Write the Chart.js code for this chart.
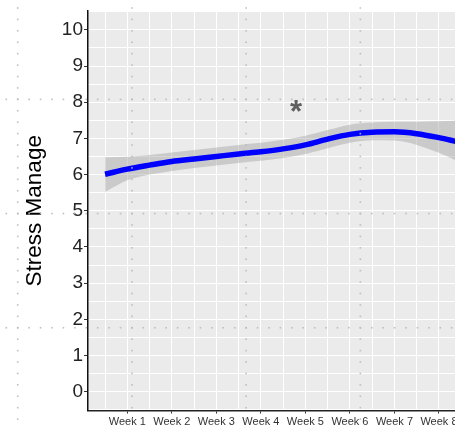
<!DOCTYPE html>
<html>
<head>
<meta charset="utf-8">
<script src="https://cdn.jsdelivr.net/npm/chart.js@4.4.1/dist/chart.umd.min.js"></script>
<style>
  html, body { margin: 0; padding: 0; background: #fff; }
  #wrap { width: 455px; height: 425px; position: relative; }
</style>
</head>
<body>
<div id="wrap"><canvas id="grafico"></canvas></div>
<script>
// Dados (x em semanas)
const semanas = [0.5, 1, 1.5, 2, 2.5, 3, 3.5, 4, 4.5, 5, 5.5, 6, 6.5, 7, 7.5, 8, 8.4];
const ajuste   = [6.01, 6.15, 6.26, 6.36, 6.43, 6.50, 6.57, 6.63, 6.71, 6.82, 6.98, 7.11, 7.17, 7.18, 7.13, 7.02, 6.91];
const inferior = [5.52, 5.84, 6.00, 6.10, 6.18, 6.25, 6.32, 6.38, 6.46, 6.57, 6.73, 6.88, 6.95, 6.94, 6.82, 6.60, 6.38];
const superior = [6.48, 6.49, 6.54, 6.61, 6.68, 6.75, 6.82, 6.88, 6.96, 7.07, 7.23, 7.38, 7.44, 7.46, 7.46, 7.47, 7.49];

const rotulosX = ['Week 1', 'Week 2', 'Week 3', 'Week 4', 'Week 5', 'Week 6', 'Week 7', 'Week 8'];
const valoresTicksY = [0, 1, 2, 3, 4, 5, 6, 7, 8, 9, 10];

// anotacao "*"
const asteriscoX = [4.79];
const asteriscoY = [7.9];

const pontos = arr => semanas.map((s, i) => ({ x: s, y: arr[i] }));

// linhas de grade: maiores + menores (metade)
const gradeX = [];
rotulosX.forEach((r, i) => { gradeX.push(i + 0.5, i + 1); });
const gradeY = [];
valoresTicksY.forEach(v => { gradeY.push(v - 0.5, v); });
gradeY.push(10.5);

const fundoPainel = {
    id: 'fundoPainel',
    beforeDraw(chart) {
        const { ctx, chartArea: a } = chart;
        ctx.save();
        ctx.fillStyle = '#EBEBEB';
        ctx.fillRect(a.left, a.top, a.right - a.left, a.bottom - a.top);
        ctx.restore();
    }
};

const anotacao = {
    id: 'anotacao',
    afterDatasetsDraw(chart) {
        const { ctx, scales } = chart;
        ctx.save();
        ctx.font = 'bold 31px "Liberation Sans", Arial, sans-serif';
        ctx.fillStyle = '#5f5f5f';
        ctx.textAlign = 'center';
        ctx.textBaseline = 'alphabetic';
        asteriscoX.forEach((x, i) => {
            const m = ctx.measureText('*');
            const px = scales.x.getPixelForValue(x);
            const py = scales.y.getPixelForValue(asteriscoY[i]);
            ctx.fillText('*', px, py + (m.actualBoundingBoxAscent - m.actualBoundingBoxDescent) / 2);
        });
        ctx.restore();
    }
};

// linhas pontilhadas sobrepostas
const pontilhado = {
    id: 'pontilhado',
    afterDraw(chart) {
        const ctx = chart.ctx;
        const passo = 11.42, x0 = 6.3, y0 = 8;
        ctx.save();
        ctx.fillStyle = 'rgba(185,185,185,0.9)';
        for (let c = 1; c < 40; c += 10) {
            const x = x0 + c * passo;
            for (let y = y0; y < chart.height; y += passo) ctx.fillRect(x - 0.8, y - 0.8, 1.6, 1.6);
        }
        for (let r = 8; r < 40; r += 10) {
            const y = y0 + r * passo;
            for (let x = x0; x < chart.width; x += passo) ctx.fillRect(x - 0.8, y - 0.8, 1.6, 1.6);
        }
        ctx.restore();
    }
};

new Chart(document.getElementById('grafico'), {
    type: 'line',
    data: {
        datasets: [
            {
                label: 'ajuste',
                data: pontos(ajuste),
                borderColor: '#0000FF',
                borderWidth: 5.5,
                pointRadius: 0,
                fill: false,
                cubicInterpolationMode: 'monotone',
                order: 0
            },
            {
                label: 'inferior',
                data: pontos(inferior),
                borderColor: 'rgba(0,0,0,0)',
                borderWidth: 0,
                pointRadius: 0,
                fill: false,
                cubicInterpolationMode: 'monotone',
                order: 2
            },
            {
                label: 'superior',
                data: pontos(superior),
                borderColor: 'rgba(0,0,0,0)',
                backgroundColor: 'rgba(153,153,153,0.4)',
                borderWidth: 0,
                pointRadius: 0,
                fill: '-1',
                cubicInterpolationMode: 'monotone',
                order: 1
            }
        ]
    },
    options: {
        responsive: true,
        maintainAspectRatio: false,
        animation: false,
        layout: { padding: { top: 11, left: 0, right: 0, bottom: 0 } },
        plugins: { legend: { display: false }, tooltip: { enabled: false } },
        scales: {
            x: {
                type: 'linear',
                min: 0.117,
                max: 8.36,
                afterBuildTicks: s => { s.ticks = gradeX.map(v => ({ value: v })); },
                afterFit: s => { s.height = 14.5; s.paddingLeft = 0; s.paddingRight = 0; },
                ticks: {
                    autoSkip: false,
                    maxRotation: 0,
                    padding: 2,
                    color: '#333',
                    font: { family: '"Liberation Sans", Arial, sans-serif', size: 11 },
                    callback: v => Number.isInteger(v) ? rotulosX[v - 1] : ''
                },
                grid: {
                    color: '#FFFFFF',
                    lineWidth: 1,
                    tickLength: 3,
                    tickColor: c => Number.isInteger(c.tick.value) ? '#333' : 'rgba(0,0,0,0)'
                },
                border: { color: '#222', width: 1.5 }
            },
            y: {
                min: -0.52,
                max: 10.52,
                afterBuildTicks: s => { s.ticks = gradeY.map(v => ({ value: v })); },
                afterFit: s => { s.width = 88; s.paddingTop = 0; s.paddingBottom = 0; },
                ticks: {
                    autoSkip: false,
                    padding: 1,
                    color: '#222',
                    font: { family: '"Liberation Sans", Arial, sans-serif', size: 19 },
                    callback: v => Number.isInteger(v) ? String(v) : ''
                },
                grid: {
                    color: '#FFFFFF',
                    lineWidth: 1,
                    tickLength: 4,
                    tickColor: c => Number.isInteger(c.tick.value) ? '#333' : 'rgba(0,0,0,0)'
                },
                border: { color: '#111', width: 1.5 },
                title: {
                    display: true,
                    text: 'Stress Manage',
                    color: '#000',
                    font: { family: '"Liberation Sans", Arial, sans-serif', size: 22.5 },
                    padding: { top: 21, bottom: 0 }
                }
            }
        }
    },
    plugins: [fundoPainel, anotacao, pontilhado]
});
</script>
</body>
</html>
